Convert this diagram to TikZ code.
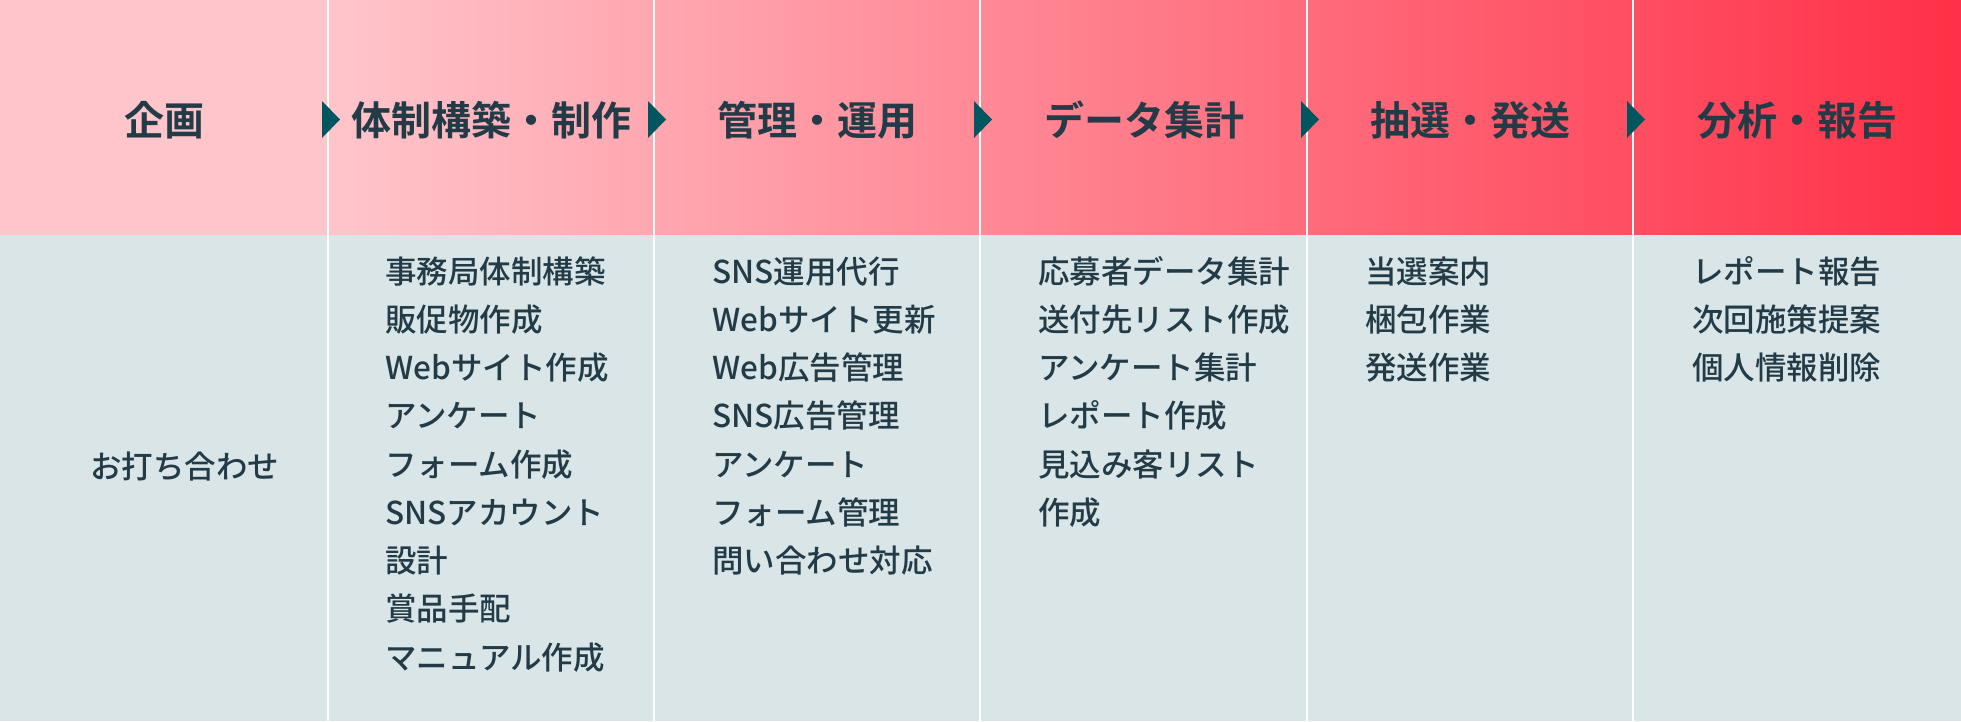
\documentclass[tikz,border=0pt]{standalone}
\usepackage{fontspec}
\setmainfont{Noto Sans CJK JP}[BoldFont={Noto Sans CJK JP Bold}]
\newfontfamily\jpmed{Noto Sans CJK JP Medium}
\definecolor{hdrL}{HTML}{FFC5CB}
\definecolor{hdrR}{HTML}{FF3047}
\definecolor{bodybg}{HTML}{D9E5E6}
\definecolor{ink}{HTML}{233B47}
\definecolor{arrowc}{HTML}{00565F}
\tikzset{
  head/.style={anchor=base, inner sep=0pt, font=\fontsize{40}{48}\selectfont\bfseries, text=ink},
  item/.style={anchor=base west, inner sep=0pt, font=\fontsize{31.5}{48}\selectfont\jpmed, text=ink},
  colsep/.style={draw=white, line width=2.5pt},
  tri/.style={fill=arrowc},
}
\begin{document}
\begin{tikzpicture}[x=1pt,y=-1pt]
\useasboundingbox (0,0) rectangle (1961,721);
% backgrounds
\fill[hdrL] (0,0) rectangle (328,235);
\shade[left color=hdrL, right color=hdrR] (328,0) rectangle (1961,235);
\fill[bodybg] (0,235) rectangle (1961,721);
% column separators and arrows
\foreach \s in {328,654,980,1307,1633}{
  \draw[colsep] (\s,0) -- (\s,721);
  \fill[tri] (\s-6,101) -- (\s+12,119.5) -- (\s-6,138) -- cycle;
}
% headers
\node[head] (h1) at (164,135) {企画};
\node[head] (h2) at (491,135) {体制構築・制作};
\node[head] (h3) at (817,135) {管理・運用};
\node[head] (h4) at (1144,135) {データ集計};
\node[head] (h5) at (1470,135) {抽選・発送};
\node[head] (h6) at (1797,135) {分析・報告};
% column 1
\node[item] (c1l1) at (90,478) {お打ち合わせ};
% column 2
\foreach \t [count=\j] in {事務局体制構築,販促物作成,Webサイト作成,アンケート,フォーム作成,SNSアカウント,設計,賞品手配,マニュアル作成}{
  \node[item] (c2l\j) at (385,{283+(\j-1)*48.25}) {\t};
}
% column 3
\foreach \t [count=\j] in {SNS運用代行,Webサイト更新,Web広告管理,SNS広告管理,アンケート,フォーム管理,問い合わせ対応}{
  \node[item] (c3l\j) at (712,{283+(\j-1)*48.25}) {\t};
}
% column 4
\foreach \t [count=\j] in {応募者データ集計,送付先リスト作成,アンケート集計,レポート作成,見込み客リスト,作成}{
  \node[item] (c4l\j) at (1038,{283+(\j-1)*48.25}) {\t};
}
% column 5
\foreach \t [count=\j] in {当選案内,梱包作業,発送作業}{
  \node[item] (c5l\j) at (1365,{283+(\j-1)*48.25}) {\t};
}
% column 6
\foreach \t [count=\j] in {レポート報告,次回施策提案,個人情報削除}{
  \node[item] (c6l\j) at (1692,{283+(\j-1)*48.25}) {\t};
}
\end{tikzpicture}
\end{document}
